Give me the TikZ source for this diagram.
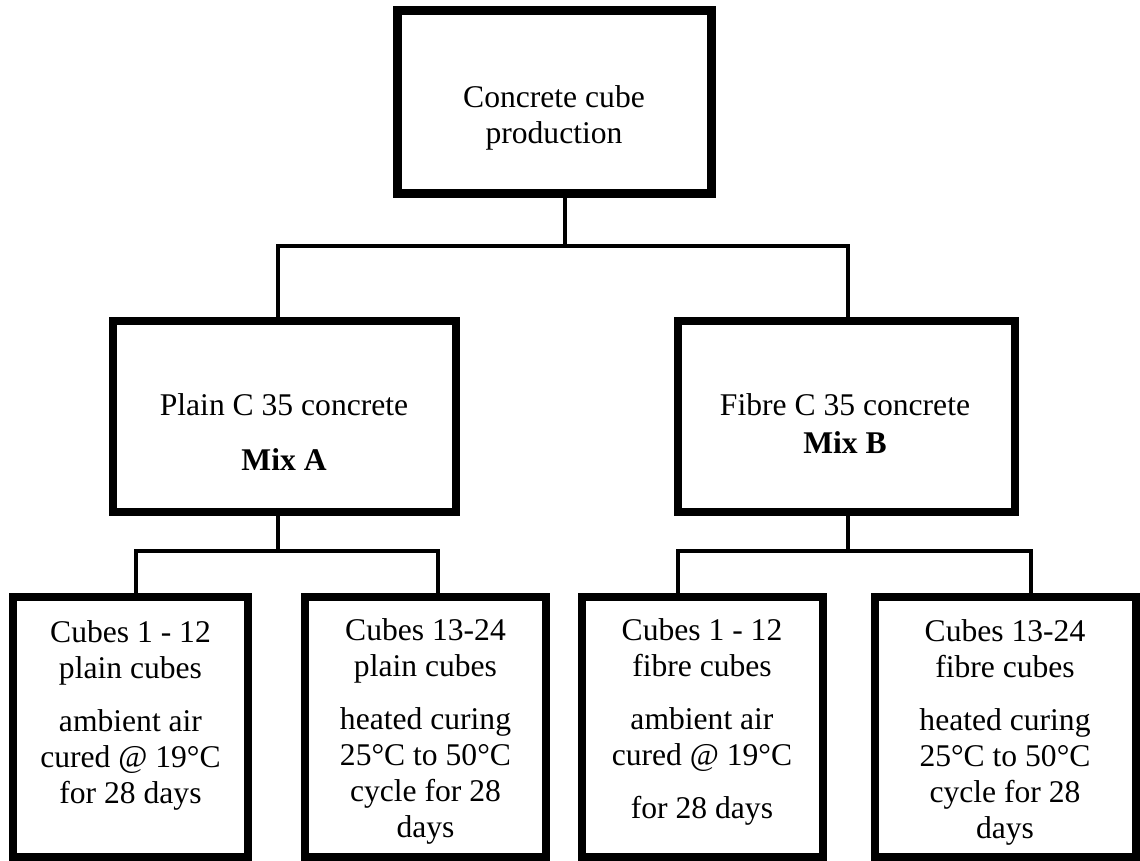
\documentclass[tikz,border=0pt]{standalone}
\usepackage{fontspec}
\setmainfont{Liberation Serif}
\begin{document}
\begin{tikzpicture}[x=0.75pt,y=-0.75pt,
  box/.style={draw=black, fill=white, inner sep=0pt, outer sep=0pt, line width=6pt},
  bigbox/.style={box, line width=6.75pt},
  conn/.style={draw=black, line width=2.6pt, line join=miter},
  txt/.style={inner sep=0pt, align=center, anchor=base, font=\fontsize{23.7pt}{27pt}\selectfont}]
\useasboundingbox[fill=white] (0,0) rectangle (1140,861);
% boxes
\node[bigbox, minimum width=235.5pt, minimum height=137.25pt] (top) at (554.5,102) {};
\node[box, minimum width=257.25pt, minimum height=143.25pt] (mixA) at (284.5,416.5) {};
\node[box, minimum width=252.75pt, minimum height=143.25pt] (mixB) at (846.5,416.5) {};
\node[box, minimum width=176.25pt, minimum height=195pt] (c1) at (130.5,727) {};
\node[box, minimum width=180.75pt, minimum height=195pt] (c2) at (425.5,727) {};
\node[box, minimum width=180.75pt, minimum height=195pt] (c3) at (702.5,727) {};
\node[box, minimum width=195.75pt, minimum height=195pt] (c4) at (1005.5,727) {};
% junctions
\coordinate (j0) at (565,246);
\coordinate (jA) at (278,246);
\coordinate (jB) at (848,246);
\coordinate (kA) at (278,551);
\coordinate (kB) at (848,551);
\coordinate (kA1) at (136,551);
\coordinate (kA2) at (438,551);
\coordinate (kB1) at (678,551);
\coordinate (kB2) at (1031,551);
% connectors
\draw[conn] (j0 |- top.south) -- (j0);
\draw[conn] (jA |- mixA.north) -- (jA) -- (jB) -- (jB |- mixB.north);
\draw[conn] (kA |- mixA.south) -- (kA);
\draw[conn] (kB |- mixB.south) -- (kB);
\draw[conn] (kA1 |- c1.north) -- (kA1) -- (kA2) -- (kA2 |- c2.north);
\draw[conn] (kB1 |- c3.north) -- (kB1) -- (kB2) -- (kB2 |- c4.north);
% texts (anchor base = baseline of last line)
\node[txt] (topT) at (554,143) {Concrete cube\\production};
\node[txt] (mixAT) at (284,470) {Plain C 35 concrete\\[14.25pt]\textbf{Mix A}};
\node[txt] (mixBT) at (845,453) {Fibre C 35 concrete\\[1.5pt]\textbf{Mix B}};
\node[txt] (c1T) at (130.5,803) {Cubes 1 - 12\\plain cubes\\[12.75pt]ambient air\\cured @ 19°C\\for 28 days};
\node[txt] (c2T) at (425.5,837) {Cubes 13-24\\plain cubes\\[12.75pt]heated curing\\25°C to 50°C\\cycle for 28\\days};
\node[txt] (c3T) at (702,818) {Cubes 1 - 12\\fibre cubes\\[12.75pt]ambient air\\cured @ 19°C\\[12.75pt]for 28 days};
\node[txt] (c4T) at (1005,838) {Cubes 13-24\\fibre cubes\\[12.75pt]heated curing\\25°C to 50°C\\cycle for 28\\days};
\end{tikzpicture}
\end{document}
